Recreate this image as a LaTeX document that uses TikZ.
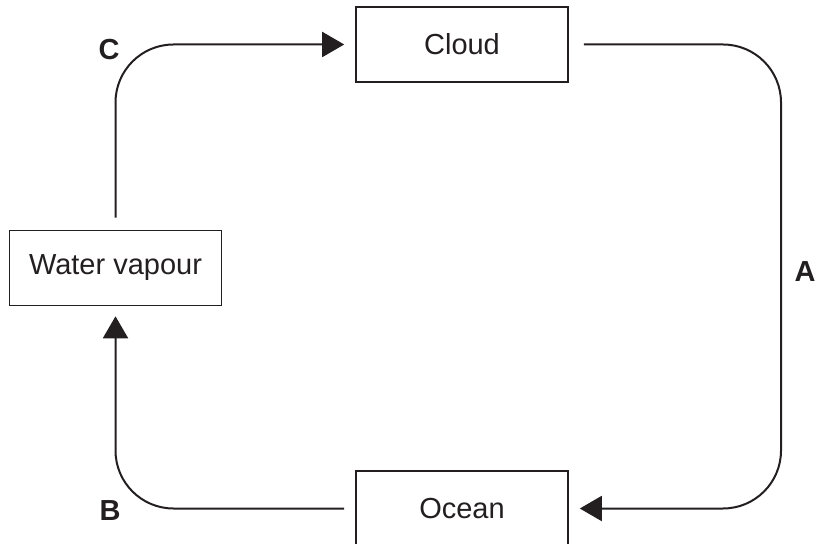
\documentclass[tikz,border=0pt]{standalone}
\usepackage{fontspec}
\setmainfont{Liberation Sans}
\usetikzlibrary{arrows.meta}
\definecolor{ink}{HTML}{231F20}

\begin{document}
\begin{tikzpicture}[
    x=0.5pt, y=-0.5pt, color=ink,
    font=\fontsize{14.5}{17}\selectfont,
    box/.style={draw, line width=0.8pt, minimum width=106pt, minimum height=37.5pt, inner sep=0pt},
    flow/.style={draw, line width=1pt, rounded corners=29pt, -{Triangle[length=11pt, width=12.5pt]}},
    tag/.style={font=\fontsize{14.5}{17}\selectfont\bfseries}
]
    \useasboundingbox (0,0) rectangle (817,544);

    \node[box] (cloud)  at (462,44.5)  {Cloud};
    \node[box] (vapour) at (115.5,268) {Water vapour};
    \node[box] (ocean)  at (462,508.5) {Ocean};

    \coordinate (aside) at (781,272);

    \draw[flow] ([xshift=7.5pt]cloud.east) -| (aside) |- ([xshift=5.5pt]ocean.east);
    \draw[flow] ([xshift=-5.5pt]ocean.west) -| ([yshift=-5pt]vapour.south);
    \draw[flow] ([yshift=6pt]vapour.north) |- ([xshift=-5.5pt]cloud.west);

    \node[tag] (labA) at (805,272) {A};
    \node[tag] (labB) at (110,511) {B};
    \node[tag] (labC) at (109,50)  {C};
\end{tikzpicture}
\end{document}
